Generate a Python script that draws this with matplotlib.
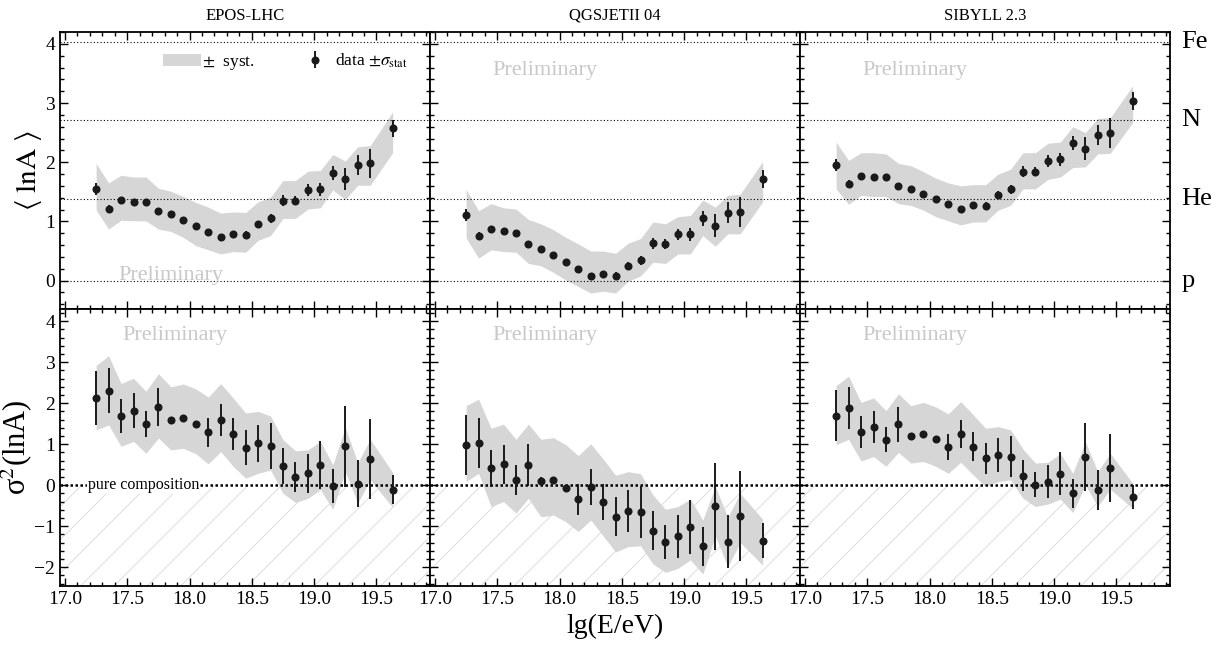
import numpy as np
import matplotlib
matplotlib.use('Agg')
import matplotlib.pyplot as plt
from matplotlib.patches import Patch
from matplotlib.ticker import MultipleLocator
import matplotlib.transforms as mtransforms

plt.rcParams['font.family'] = ['Liberation Serif', 'DejaVu Serif']
plt.rcParams['mathtext.fontset'] = 'stix'
plt.rcParams['hatch.linewidth'] = 0.6
plt.rcParams['hatch.color'] = '#d8d8d8'

# energy bins lg(E/eV)
lgE = [17.25, 17.35, 17.45, 17.55, 17.65, 17.75, 17.85, 17.95, 18.05, 18.15,
       18.25, 18.35, 18.45, 18.55, 18.65, 18.75, 18.85, 18.95, 19.05, 19.15,
       19.25, 19.35, 19.45, 19.63]

models = ['EPOS-LHC', 'QGSJETII 04', 'SIBYLL 2.3']

# <lnA>
lnA = {
    'EPOS-LHC': [1.55, 1.21, 1.37, 1.33, 1.33, 1.17, 1.12, 1.03, 0.93, 0.82,
                 0.73, 0.78, 0.77, 0.95, 1.05, 1.35, 1.35, 1.53, 1.54, 1.82,
                 1.72, 1.96, 1.98, 2.57],
    'QGSJETII 04': [1.11, 0.75, 0.88, 0.83, 0.80, 0.61, 0.54, 0.44, 0.31, 0.19,
                    0.08, 0.11, 0.08, 0.25, 0.34, 0.63, 0.62, 0.78, 0.78, 1.05,
                    0.93, 1.15, 1.16, 1.72],
    'SIBYLL 2.3': [1.95, 1.63, 1.77, 1.75, 1.75, 1.59, 1.55, 1.47, 1.38, 1.29,
                   1.21, 1.27, 1.26, 1.45, 1.54, 1.84, 1.84, 2.02, 2.05, 2.32,
                   2.23, 2.46, 2.49, 3.04],
}
lnA_stat = {
    'EPOS-LHC': [0.10, 0.07, 0.05, 0.05, 0.04, 0.04, 0.03, 0.03, 0.03, 0.03,
                 0.03, 0.04, 0.06, 0.06, 0.08, 0.09, 0.08, 0.10, 0.11, 0.12,
                 0.19, 0.17, 0.24, 0.15],
    'QGSJETII 04': [0.10, 0.07, 0.05, 0.05, 0.04, 0.04, 0.03, 0.03, 0.03, 0.03,
                    0.03, 0.04, 0.06, 0.06, 0.08, 0.09, 0.08, 0.10, 0.11, 0.12,
                    0.19, 0.17, 0.25, 0.15],
    'SIBYLL 2.3': [0.10, 0.07, 0.05, 0.05, 0.04, 0.04, 0.03, 0.03, 0.03, 0.03,
                   0.03, 0.04, 0.06, 0.06, 0.08, 0.09, 0.08, 0.10, 0.11, 0.12,
                   0.19, 0.17, 0.25, 0.15],
}
lnA_sys_hi = {
    'EPOS-LHC': [1.98, 1.65, 1.78, 1.75, 1.75, 1.56, 1.51, 1.42, 1.32, 1.24,
                 1.14, 1.16, 1.15, 1.33, 1.41, 1.69, 1.69, 1.85, 1.86, 2.13,
                 2.02, 2.26, 2.28, 2.85],
    'QGSJETII 04': [1.54, 1.18, 1.30, 1.23, 1.21, 1.03, 0.96, 0.86, 0.73, 0.62,
                    0.50, 0.50, 0.46, 0.63, 0.71, 0.99, 0.96, 1.08, 1.10, 1.36,
                    1.24, 1.44, 1.46, 2.01],
    'SIBYLL 2.3': [2.34, 2.03, 2.16, 2.16, 2.14, 1.98, 1.94, 1.84, 1.73, 1.65,
                   1.60, 1.62, 1.62, 1.80, 1.88, 2.16, 2.16, 2.32, 2.34, 2.60,
                   2.50, 2.74, 2.75, 3.29],
}
lnA_sys_lo = {
    'EPOS-LHC': [1.19, 0.87, 1.02, 1.01, 1.01, 0.87, 0.83, 0.73, 0.59, 0.52,
                 0.45, 0.49, 0.48, 0.68, 0.76, 1.05, 1.05, 1.21, 1.23, 1.53,
                 1.37, 1.61, 1.61, 2.16],
    'QGSJETII 04': [0.72, 0.38, 0.52, 0.49, 0.48, 0.29, 0.25, 0.14, 0.01, -0.10,
                    -0.21, -0.18, -0.21, -0.01, 0.08, 0.31, 0.29, 0.45, 0.45, 0.76,
                    0.58, 0.79, 0.79, 1.33],
    'SIBYLL 2.3': [1.55, 1.29, 1.44, 1.42, 1.42, 1.30, 1.27, 1.19, 1.08, 1.01,
                   0.94, 0.99, 0.99, 1.19, 1.27, 1.55, 1.55, 1.71, 1.75, 1.91,
                   1.92, 2.14, 2.15, 2.67],
}

# sigma^2(lnA)
var = {
    'EPOS-LHC': [2.13, 2.31, 1.69, 1.82, 1.50, 1.90, 1.58, 1.64, 1.49, 1.29,
                 1.60, 1.25, 0.92, 1.02, 0.96, 0.46, 0.20, 0.29, 0.49, -0.02,
                 0.95, 0.04, 0.64, -0.11],
    'QGSJETII 04': [0.98, 1.03, 0.41, 0.51, 0.13, 0.49, 0.11, 0.13, -0.07, -0.34,
                    -0.05, -0.42, -0.77, -0.62, -0.66, -1.11, -1.38, -1.25, -1.03, -1.49,
                    -0.51, -1.38, -0.76, -1.35],
    'SIBYLL 2.3': [1.70, 1.88, 1.30, 1.42, 1.11, 1.49, 1.20, 1.25, 1.13, 0.94,
                   1.25, 0.94, 0.66, 0.74, 0.70, 0.23, 0.01, 0.09, 0.28, -0.20,
                   0.69, -0.12, 0.42, -0.29],
}
var_stat = {
    'EPOS-LHC': [0.66, 0.55, 0.41, 0.42, 0.32, 0.46, 0.08, 0.07, 0.05, 0.36,
                 0.39, 0.39, 0.43, 0.46, 0.57, 0.44, 0.37, 0.47, 0.59, 0.41,
                 0.99, 0.57, 0.98, 0.35],
    'QGSJETII 04': [0.74, 0.62, 0.46, 0.48, 0.37, 0.52, 0.09, 0.08, 0.04, 0.38,
                    0.44, 0.44, 0.47, 0.51, 0.64, 0.48, 0.41, 0.53, 0.66, 0.48,
                    1.06, 0.65, 1.10, 0.42],
    'SIBYLL 2.3': [0.62, 0.51, 0.38, 0.40, 0.30, 0.43, 0.06, 0.05, 0.04, 0.32,
                   0.35, 0.35, 0.38, 0.41, 0.51, 0.38, 0.31, 0.41, 0.52, 0.35,
                   0.83, 0.49, 0.84, 0.29],
}
var_sys_hi = {
    'EPOS-LHC': [2.92, 3.16, 2.48, 2.61, 2.29, 2.72, 2.40, 2.47, 2.35, 2.15,
                 2.48, 2.13, 1.76, 1.80, 1.69, 1.11, 0.84, 0.86, 1.07, 0.50,
                 1.41, 0.55, 1.12, 0.31],
    'QGSJETII 04': [1.94, 2.10, 1.39, 1.49, 1.12, 1.49, 1.12, 1.16, 0.99, 0.72,
                    1.01, 0.64, 0.24, 0.33, 0.28, -0.24, -0.59, -0.52, -0.34, -0.85,
                    -0.03, -0.78, -0.20, -0.83],
    'SIBYLL 2.3': [2.43, 2.66, 2.02, 2.13, 1.82, 2.23, 1.94, 2.02, 1.91, 1.74,
                   2.04, 1.72, 1.39, 1.43, 1.35, 0.88, 0.54, 0.56, 0.77, 0.29,
                   1.07, 0.33, 0.78, 0.05],
}
var_sys_lo = {
    'EPOS-LHC': [1.35, 1.47, 0.95, 1.07, 0.78, 1.15, 0.86, 0.90, 0.77, 0.52,
                 0.82, 0.46, 0.17, 0.29, 0.37, -0.20, -0.42, -0.32, -0.11, -0.59,
                 0.33, -0.44, 0.13, -0.54],
    'QGSJETII 04': [0.09, 0.29, -0.52, -0.40, -0.68, -0.32, -0.77, -0.73, -0.89, -1.13,
                    -0.85, -1.24, -1.63, -1.50, -1.48, -1.92, -2.13, -2.03, -1.82, -2.17,
                    -1.24, -1.99, -1.40, -1.95],
    'SIBYLL 2.3': [0.99, 1.12, 0.59, 0.70, 0.46, 0.80, 0.54, 0.58, 0.46, 0.29,
                   0.56, 0.25, -0.03, 0.09, 0.13, -0.32, -0.52, -0.46, -0.34, -0.67,
                   0.01, -0.52, -0.10, -0.56],
}

# reference lines for <lnA>
ref_names = ['p', 'He', 'N', 'Fe']
ref_vals = [0.0, np.log(4), 2.71, np.log(56)]

band_col = '#d6d6d6'
pt_col = '#1a1a1a'

fig, axes = plt.subplots(2, 3, figsize=(12.27, 6.48), dpi=100, sharex=True)
fig.subplots_adjust(left=60/1227, right=1170/1227, top=1-32/648,
                    bottom=1-586/648, wspace=0, hspace=0)

x = np.array(lgE)
eb_handle = None
for j, m in enumerate(models):
    at = axes[0, j]
    ab = axes[1, j]

    # top row: <lnA>
    at.fill_between(x, lnA_sys_lo[m], lnA_sys_hi[m], color=band_col, lw=0, zorder=1)
    for v in ref_vals:
        at.axhline(v, color='k', ls=(0, (1, 2)), lw=0.8, zorder=2)
    eb = at.errorbar(x, lnA[m], yerr=lnA_stat[m], fmt='o', ms=4.8, color=pt_col,
                     ecolor=pt_col, elinewidth=1.4, capsize=0, zorder=3)
    if j == 0:
        eb_handle = eb
    at.set_ylim(-0.48, 4.2)
    at.set_title(m, fontsize=12, pad=9)

    # bottom row: sigma^2(lnA)
    ab.fill_between([16.9, 20.0], -3, 0, facecolor='none', edgecolor='#d8d8d8',
                    hatch='/', lw=0, zorder=0)
    ab.fill_between(x, var_sys_lo[m], var_sys_hi[m], color=band_col, lw=0, zorder=1)
    ab.axhline(0, color='k', ls=(0, (1, 1)), lw=1.8, zorder=2)
    ab.errorbar(x, var[m], yerr=var_stat[m], fmt='o', ms=4.8, color=pt_col,
                ecolor=pt_col, elinewidth=1.4, capsize=0, zorder=3)
    ab.set_ylim(-2.46, 4.3)

    for ax in (at, ab):
        ax.set_xlim(16.96, 19.93)
        ax.xaxis.set_major_locator(MultipleLocator(0.5))
        ax.xaxis.set_minor_locator(MultipleLocator(0.1))
        ax.yaxis.set_major_locator(MultipleLocator(1))
        ax.yaxis.set_minor_locator(MultipleLocator(0.2))
        ax.tick_params(which='both', direction='in', top=True, right=True,
                       labelsize=14, width=1.0)
        ax.tick_params(which='major', length=6)
        ax.tick_params(which='minor', length=3)
        for s in ax.spines.values():
            s.set_linewidth(1.3)
        if j > 0:
            ax.tick_params(labelleft=False)
    ab.xaxis.set_major_formatter(matplotlib.ticker.FormatStrFormatter('%.1f'))

    # watermark
    if j == 0:
        at.text(0.30, 0.12, 'Preliminary', transform=at.transAxes, color='#c8c8c8',
                fontsize=16, ha='center', va='center', zorder=4)
    else:
        at.text(0.31, 0.86, 'Preliminary', transform=at.transAxes, color='#c8c8c8',
                fontsize=16, ha='center', va='center', zorder=4)
    ab.text(0.31, 0.905, 'Preliminary', transform=ab.transAxes, color='#c8c8c8',
            fontsize=16, ha='center', va='center', zorder=4)

# composition labels on the right
trans = mtransforms.blended_transform_factory(axes[0, 2].transAxes, axes[0, 2].transData)
for name, v in zip(ref_names, ref_vals):
    axes[0, 2].text(1.03, v, name, transform=trans, fontsize=19, ha='left',
                    va='center', clip_on=False)

# pure composition note
trans0 = mtransforms.blended_transform_factory(axes[1, 0].transAxes, axes[1, 0].transData)
axes[1, 0].text(0.076, 0.0, 'pure composition', transform=trans0, fontsize=11.5,
                ha='left', va='center', zorder=4,
                bbox=dict(facecolor='white', edgecolor='none', pad=0.5))

# legend
leg = axes[0, 0].legend([Patch(facecolor=band_col, edgecolor='none'), eb_handle],
                        [r'$\pm$  syst.', r'data $\pm\sigma_{\rm stat}$'],
                        ncol=2, loc='upper left', bbox_to_anchor=(0.235, 0.985),
                        frameon=False, fontsize=12.5, handlelength=2.2,
                        handletextpad=0.05, columnspacing=2.4)

axes[0, 0].set_ylabel(r'$\langle\ \mathrm{lnA}\ \rangle$', fontsize=21, labelpad=1)
axes[1, 0].set_ylabel(r'σ$^2$(lnA)', fontsize=22, labelpad=0)
axes[1, 1].set_xlabel('lg(E/eV)', fontsize=20, labelpad=4)

fig.savefig('out.png', dpi=100)
